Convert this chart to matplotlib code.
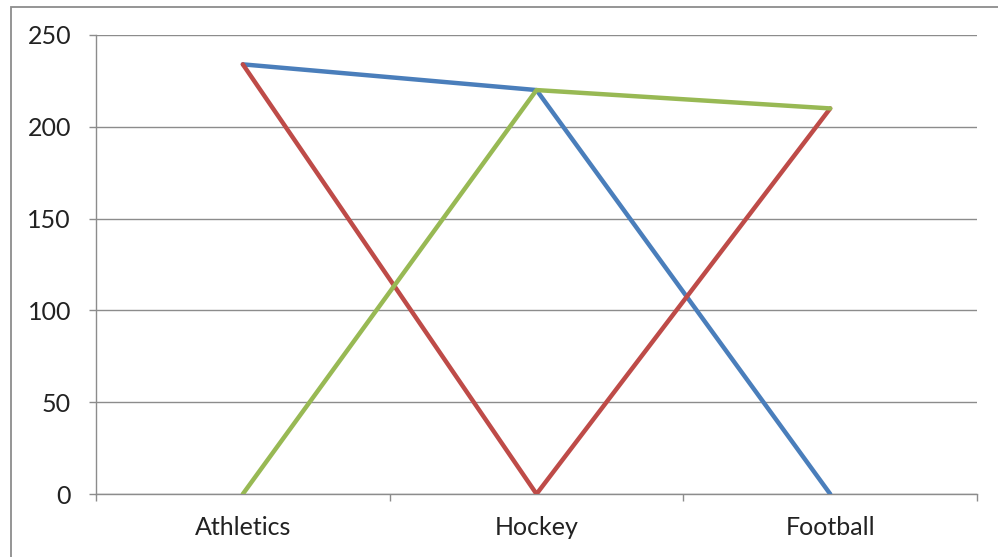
import numpy as np
import matplotlib.pyplot as plt
from matplotlib.patches import Rectangle

sports = ["Athletics", "Hockey", "Football"]
series_blue = [234, 220, 0]
series_red = [234, 0, 210]
series_green = [0, 220, 210]
y_ticks = [0, 50, 100, 150, 200, 250]

plt.rcParams['font.family'] = ['Lato', 'DejaVu Sans']

fig = plt.figure(figsize=(9.98, 5.57), dpi=100)
ax = fig.add_axes([0.0962, 0.1131, 0.979 - 0.0962, 0.9372 - 0.1131])

# outer chart frame (top and left edges visible)
fig.patches.append(Rectangle((11 / 998, -0.1), 1.2, 1 - 7 / 557 + 0.1,
                             transform=fig.transFigure, fill=False,
                             edgecolor='#8c8c8c', linewidth=1.3))

x = np.arange(len(sports))
ax.plot(x, series_blue, color='#4a7ebb', linewidth=3.2, solid_capstyle='round', zorder=3)
ax.plot(x, series_red, color='#be4b48', linewidth=3.2, solid_capstyle='round', zorder=3)
ax.plot(x, series_green, color='#98b954', linewidth=3.2, solid_capstyle='round', zorder=3)

ax.set_xlim(-0.5, len(sports) - 0.5)
ax.set_ylim(0, 250)
ax.set_yticks(y_ticks)
ax.grid(axis='y', color='#8c8c8c', linewidth=1)
ax.set_axisbelow(True)

ax.set_xticks(x)
ax.set_xticklabels(sports)
ax.tick_params(axis='x', length=0, pad=16, labelsize=18, labelcolor='#222222')
ax.set_xticks(np.arange(len(sports) + 1) - 0.5, minor=True)
ax.tick_params(axis='x', which='minor', length=5, color='#8c8c8c', width=1)
ax.tick_params(axis='y', length=5, color='#8c8c8c', width=1, pad=13,
               labelsize=18, labelcolor='#222222')

for side in ['top', 'right']:
    ax.spines[side].set_visible(False)
for side in ['left', 'bottom']:
    ax.spines[side].set_color('#8c8c8c')
    ax.spines[side].set_linewidth(1)

fig.savefig('out.png', dpi=100)
